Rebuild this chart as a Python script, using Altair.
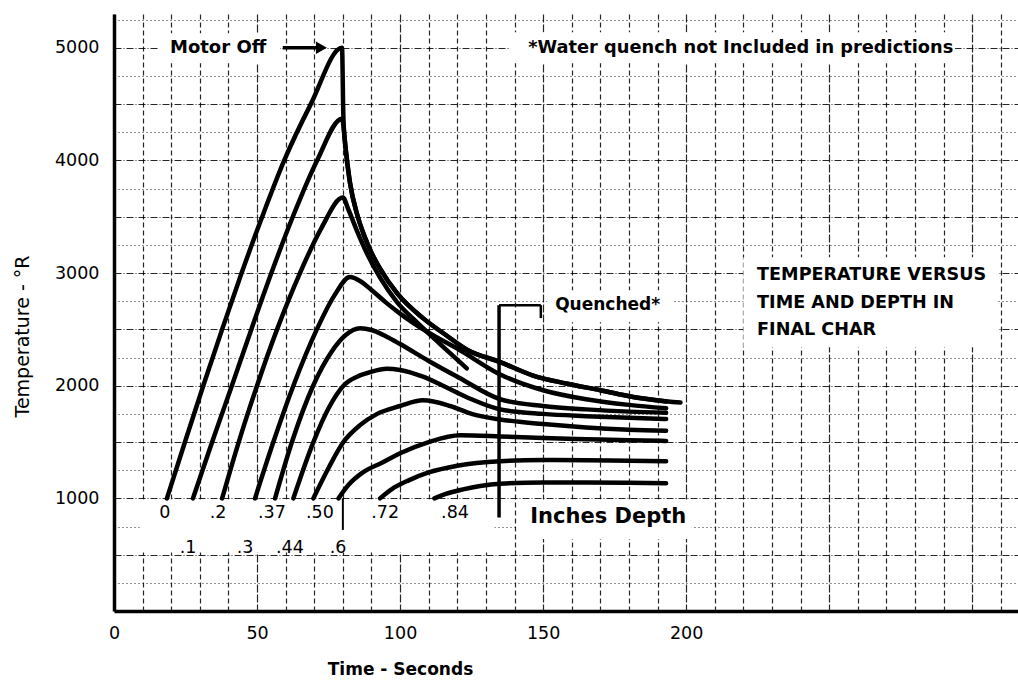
import altair as alt
import pandas as pd

# ---------------- data ----------------
depth_names = ["0", ".1", ".2", ".3", ".37", ".44", ".50", ".6", ".72", ".84"]

t_0 = [18.5, 24.8, 31.2, 37.8, 44.6, 51.8, 59.5, 68.8, 79.7, 80.2, 81, 82.5, 85, 87.5, 90, 93, 99, 108, 116, 123.4, 135, 146.5, 158, 170, 181.5, 198]
temp_0 = [1000, 1500, 2000, 2500, 3000, 3500, 4000, 4500, 5000, 4370, 4100, 3800, 3520, 3330, 3180, 3040, 2820, 2600, 2450, 2320, 2210, 2090, 2020, 1960, 1900, 1850]

t_1 = [27.6, 34.3, 41.2, 48, 55, 62.5, 71, 79.7, 81, 82.5, 85, 87.5, 90, 93, 99, 108, 116, 123.4, 135, 146.5, 158, 170, 181.5, 193]
temp_1 = [1000, 1500, 2000, 2500, 3000, 3500, 4000, 4370, 4100, 3800, 3520, 3330, 3180, 3040, 2820, 2600, 2450, 2320, 2210, 2090, 2020, 1960, 1900, 1860]

t_2 = [37.8, 43.6, 50, 57, 65, 72.5, 80, 82, 85, 88.3, 93, 99, 106, 114, 123.3]
temp_2 = [1000, 1500, 2000, 2500, 3000, 3400, 3670, 3560, 3370, 3180, 2960, 2740, 2560, 2370, 2154]

t_3 = [49.3, 55.7, 62.7, 70.9, 77, 82.5, 86, 90, 95, 100, 110, 120, 135, 150, 165, 180, 193]
temp_3 = [1000, 1500, 2000, 2500, 2800, 2965, 2930, 2850, 2740, 2640, 2470, 2330, 2100, 1960, 1880, 1830, 1800]

t_37 = [56.3, 62.2, 69.6, 76, 81, 86, 90, 95, 100, 110, 120, 135, 150, 165, 180, 193]
temp_37 = [1000, 1500, 2000, 2300, 2450, 2510, 2495, 2440, 2370, 2220, 2080, 1880, 1820, 1790, 1770, 1760]

t_44 = [62.7, 69.7, 75, 80.2, 85, 89.5, 95.3, 100, 108, 115, 125, 135, 150, 165, 180, 193]
temp_44 = [1000, 1500, 1800, 2000, 2080, 2120, 2150, 2140, 2080, 2000, 1880, 1790, 1750, 1730, 1715, 1705]

t_50 = [69.7, 75, 80.2, 86, 92, 100, 108, 117.5, 125, 135, 150, 165, 180, 193]
temp_50 = [1000, 1270, 1500, 1650, 1750, 1820, 1870, 1820, 1750, 1700, 1660, 1630, 1610, 1600]

t_6 = [78.5, 82, 87, 94, 100, 110, 121, 135, 150, 165, 180, 193]
temp_6 = [1000, 1120, 1230, 1320, 1400, 1500, 1560, 1550, 1535, 1525, 1515, 1510]

t_72 = [93, 97, 103, 110, 120, 135, 150, 165, 180, 193]
temp_72 = [1000, 1080, 1160, 1230, 1290, 1330, 1340, 1338, 1333, 1330]

t_84 = [112, 116, 122, 128, 135, 150, 165, 180, 193]
temp_84 = [1000, 1040, 1080, 1110, 1130, 1140, 1140, 1138, 1135]

# depth labels under the 1000 line
label_text = ["0", ".2", ".37", ".50", ".72", ".84", ".1", ".3", ".44", ".6"]
label_t = [17.8, 36.4, 55.2, 72, 94.8, 119.2, 25.9, 45.8, 61.5, 78.3]
label_temp = [870, 870, 870, 870, 870, 870, 560, 560, 560, 560]

# axis tick values
x_grid = list(range(0, 320, 10))
y_grid = list(range(0, 5300, 250))

# ---------------- tables ----------------
series = [t_0, t_1, t_2, t_3, t_37, t_44, t_50, t_6, t_72, t_84]
temps = [temp_0, temp_1, temp_2, temp_3, temp_37, temp_44, temp_50, temp_6, temp_72, temp_84]
rows = []
for name, ts, Ts in zip(depth_names, series, temps):
    for i, (a, b) in enumerate(zip(ts, Ts)):
        rows.append({"depth": name, "t": a, "T": b, "i": i})
curves = pd.DataFrame(rows)

labels = pd.DataFrame({"t": label_t, "T": label_temp, "text": label_text})

boxes = pd.DataFrame({
    "t1": [15.4, 138.5, 220, 151.4, 9, 141],
    "t2": [58, 294, 309, 195.5, 133, 202],
    "T1": [4862, 4862, 2342, 2564, 520, 640],
    "T2": [5129, 5138, 3141, 2848, 990, 990],
})

rules = pd.DataFrame({
    "ta": [59, 134.6, 134.6, 149.2, 80],
    "tb": [71, 149.2, 134.6, 149.2, 80],
    "Ta": [5000, 2715, 2715, 2715, 1000],
    "Tb": [5000, 2715, 830, 2600, 720],
    "w": [3.5, 2.5, 3.5, 2.5, 2],
})

arrow = pd.DataFrame({"t": [72.5], "T": [5000]})

notes_bold = pd.DataFrame({
    "t": [36.4, 144.8, 154.2, 145.5],
    "T": [5000, 5000, 2715, 834],
    "text": ["Motor Off", "*Water quench not Included in predictions", "Quenched*", "Inches Depth"],
    "size": [18, 17.8, 17, 21],
    "align": ["center", "left", "left", "left"],
})

title_lines = pd.DataFrame({
    "t": [224.8, 224.8, 224.8],
    "T": [2981, 2733, 2493],
    "text": ["TEMPERATURE VERSUS", "TIME AND DEPTH IN", "FINAL CHAR"],
})

# ---------------- scales / axes ----------------
FONT = "DejaVu Sans"
xscale = alt.Scale(domain=[0, 316], nice=False, zero=False)
yscale = alt.Scale(domain=[0, 5300], nice=False, zero=False)

xaxis = alt.Axis(
    values=x_grid, format="d",
    labelExpr="(datum.value % 50 == 0 && datum.value <= 200) ? datum.label : ''",
    labelOverlap=False, labelFlush=False, labelFont=FONT, labelFontSize=17.5,
    labelColor="black", labelPadding=13, ticks=False,
    domainColor="black", domainWidth=3.5,
    grid=True, gridColor="black", gridOpacity=0.85, gridWidth=1.2,
    gridDash={"condition": {"test": "datum.value % 50 == 0", "value": [8, 2]}, "value": [5, 3]},
    title="Time - Seconds", titleFont=FONT, titleFontSize=17, titleFontWeight="bold",
    titleColor="black", titleX=286, titleY=50, titleAlign="center", titleBaseline="top",
)
yaxis = alt.Axis(
    values=y_grid, format="d",
    labelExpr="(datum.value % 1000 == 0 && datum.value > 0) ? datum.label : ''",
    labelOverlap=False, labelFlush=False, labelFont=FONT, labelFontSize=17.5,
    labelColor="black", labelPadding=15, ticks=False,
    domainColor="black", domainWidth=3.5,
    grid=True, gridColor="black", gridOpacity=0.85, gridWidth=1.2,
    gridDash={"condition": {"test": "datum.value % 500 == 0", "value": [7, 2, 1, 2]}, "value": [1, 3]},
    title="Temperature - °R", titleFont=FONT, titleFontSize=19, titleFontWeight="normal",
    titleColor="black", titleX=-82, titleY=322, titleAngle=-90,
    titleAlign="center", titleBaseline="bottom",
)


def X(field):
    return alt.X(field, type="quantitative", scale=xscale, axis=xaxis)


def Y(field):
    return alt.Y(field, type="quantitative", scale=yscale, axis=yaxis)


box_layer = alt.Chart(boxes).mark_rect(color="white").encode(
    x=X("t1"), x2="t2", y=Y("T1"), y2="T2"
)

line_layer = alt.Chart(curves).mark_line(
    color="black", strokeWidth=4.5, interpolate="monotone", strokeCap="round"
).encode(
    x=X("t"), y=Y("T"), detail="depth:N", order="i:Q"
)

rule_layer = alt.Chart(rules).mark_rule(color="black").encode(
    x=X("ta"), x2="tb", y=Y("Ta"), y2="Tb",
    size=alt.Size("w:Q", scale=None, legend=None),
)

arrow_layer = alt.Chart(arrow).mark_point(
    shape="triangle-right", filled=True, color="black", size=160, opacity=1
).encode(x=X("t"), y=Y("T"))

label_layer = alt.Chart(labels).mark_text(
    font=FONT, fontSize=17.5, color="black", baseline="middle", align="center"
).encode(x=X("t"), y=Y("T"), text="text:N")

note_layers = []
for _, r in notes_bold.iterrows():
    note_layers.append(
        alt.Chart(pd.DataFrame([r])).mark_text(
            font=FONT, fontSize=float(r["size"]), fontWeight="bold", color="black",
            baseline="middle", align=r["align"]
        ).encode(x=X("t"), y=Y("T"), text="text:N")
    )

title_layer = alt.Chart(title_lines).mark_text(
    font=FONT, fontSize=17.6, fontWeight="bold", color="black",
    baseline="middle", align="left"
).encode(x=X("t"), y=Y("T"), text="text:N")

chart = alt.layer(
    box_layer, line_layer, rule_layer, arrow_layer, label_layer, title_layer, *note_layers
).properties(
    width=904, height=597,
    padding={"left": 114, "top": 14, "right": 0, "bottom": 72},
    autosize="none", background="white",
).configure_view(stroke=None)

chart.save("out.html", embed_options={"renderer": "svg", "actions": False})
